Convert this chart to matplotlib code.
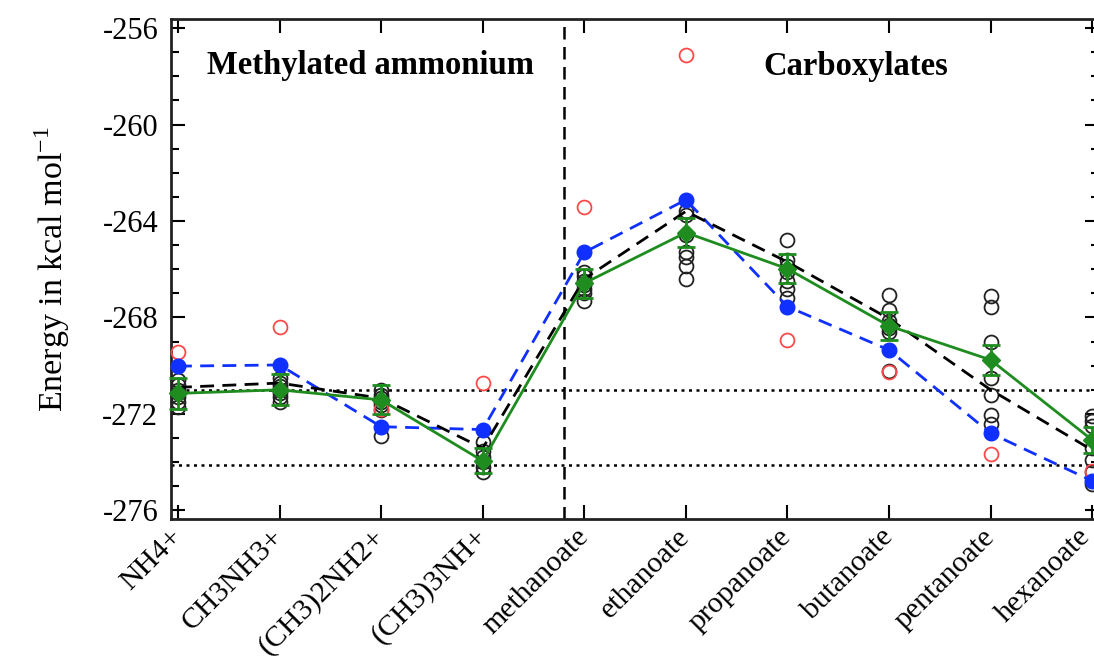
import matplotlib
matplotlib.use("Agg")
import matplotlib.pyplot as plt
import matplotlib.transforms as mtransforms
import numpy as np

plt.rcParams['font.family'] = 'Liberation Serif'
plt.rcParams['mathtext.fontset'] = 'custom'
plt.rcParams['mathtext.rm'] = 'Liberation Serif'

# data
categories = ['NH4+', 'CH3NH3+', '(CH3)2NH2+', '(CH3)3NH+', 'methanoate',
              'ethanoate', 'propanoate', 'butanoate', 'pentanoate', 'hexanoate']

black_points = [
    [-270.6, -270.8, -271.0, -271.15, -271.3, -271.5, -271.7],
    [-270.5, -270.7, -270.85, -271.0, -271.15, -271.3, -271.5],
    [-271.0, -271.2, -271.35, -271.5, -271.65, -271.85, -272.93],
    [-273.15, -273.55, -273.8, -274.0, -274.2, -274.4],
    [-266.1, -266.3, -266.5, -266.65, -266.8, -267.0, -267.3],
    [-263.6, -263.75, -264.6, -265.3, -265.5, -265.85, -266.4],
    [-264.8, -265.6, -265.85, -266.1, -266.5, -266.8, -267.2],
    [-267.05, -267.7, -268.15, -268.3, -268.45, -268.6, -270.2],
    [-267.1, -267.57, -269.0, -270.5, -271.2, -272.05, -272.4],
    [-272.1, -272.3, -272.5, -273.4, -273.9, -274.4, -274.9],
]
red_points = [-269.45, -268.4, -271.8, -270.7, -263.4, -257.1, -268.95, -270.25, -273.65, -274.35]
blue_line = [-270.02, -269.97, -272.53, -272.65, -265.3, -263.12, -267.55, -269.35, -272.8, -274.78]
black_dashed = [-270.9, -270.72, -271.35, -273.42, -266.4, -263.6, -265.7, -268.05, -271.0, -273.5]
green_mean = [-271.15, -271.0, -271.42, -273.95, -266.58, -264.48, -265.98, -268.35, -269.76, -273.08]
green_err = [0.65, 0.65, 0.6, 0.52, 0.6, 0.6, 0.6, 0.58, 0.62, 0.55]

ref_levels = [-271.0, -274.1]
divider_x = 3.8

x = np.arange(len(categories))

fig = plt.figure(figsize=(10.94, 6.65), dpi=100)
ax = fig.add_axes([0.156, 0.2195, 0.849, 0.752])

# reference lines
for lvl in ref_levels:
    ax.axhline(lvl, color='black', lw=1.8, ls=(0, (1.2, 1.8)), zorder=1)
ax.axvline(divider_x, color='black', lw=1.8, ls=(0, (5, 3)), zorder=1)

# individual values
for i, vals in enumerate(black_points):
    ax.plot([x[i]] * len(vals), vals, 'o', mfc='none', mec='#222222',
            ms=10, mew=1.3, clip_on=False, zorder=3)
ax.plot(x, red_points, 'o', mfc='none', mec='#ff4a4a', ms=10, mew=1.3,
        clip_on=False, zorder=3)

# model lines
ax.plot(x, blue_line, color='#1030ff', ls=(0, (5, 3)), lw=2,
        marker='o', ms=10.5, clip_on=False, zorder=4)
ax.plot(x, black_dashed, color='black', ls=(0, (5, 3)), lw=2,
        clip_on=False, zorder=4)
ax.errorbar(x, green_mean, yerr=green_err, color='#1e8c1e', lw=2,
            marker='D', ms=9, capsize=6.5, capthick=2, elinewidth=2,
            clip_on=False, zorder=5)

ax.text(1.89, -257.55, 'Methylated ammonium', fontsize=23.5, fontweight='bold',
        ha='center', va='center')
ax.text(6.67, -257.6, 'Carboxylates', fontsize=23.5, fontweight='bold',
        ha='center', va='center')

ax.set_xlim(-0.072, 9.072)
ax.set_ylim(-276.36, -255.62)
ax.set_yticks(np.arange(-276, -255, 4))
ax.set_yticks(np.arange(-276, -255, 1), minor=True)
ax.set_yticklabels([str(int(v)) for v in np.arange(-276, -255, 4)])
ax.set_xticks(x)
ax.set_xticklabels(categories, rotation=45, ha='right', va='center',
                   rotation_mode='anchor')

ax.tick_params(axis='y', which='major', direction='in', length=10, width=1.5,
               left=True, right=True, labelsize=22, pad=9)
ax.tick_params(axis='y', which='minor', direction='in', length=6, width=1.5,
               left=True, right=True)
ax.tick_params(axis='x', which='major', direction='in', length=10, width=1.5,
               top=True, bottom=True, labelsize=21.5, pad=10)
for s in ax.spines.values():
    s.set_linewidth(2)
    s.set_color('#222222')

# nudge the last label so it stays inside the figure
last = ax.get_xticklabels()[-1]
last.set_transform(last.get_transform() +
                   mtransforms.ScaledTranslation(-6 / 100, 0, fig.dpi_scale_trans))

ax.set_ylabel('Energy in kcal mol$^{-1}$', fontsize=24.5, labelpad=22)

fig.savefig('out.png', dpi=100)
